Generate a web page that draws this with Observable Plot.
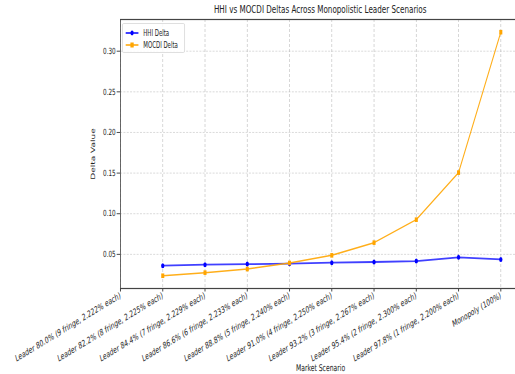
<!DOCTYPE html>
<html><head><meta charset="utf-8">
<script src="https://cdn.jsdelivr.net/npm/d3@7"></script>
<script src="https://cdn.jsdelivr.net/npm/@observablehq/plot@0.6"></script>
<style>
html,body{margin:0;background:#fff;overflow:hidden;}
#outer{position:relative;width:515px;height:374px;overflow:hidden;}
#wrap{position:absolute;left:0;top:0;width:780px;height:374px;transform:scaleX(0.66026);transform-origin:0 0;font-family:"DejaVu Sans",sans-serif;color:#222;}
#title{position:absolute;left:182px;width:606px;top:4px;text-align:center;font-size:10.9px;line-height:12px;white-space:nowrap;}
#legend{position:absolute;left:185px;top:23px;width:93px;height:28px;border:1px solid #d8d8d8;border-radius:2px;background:rgba(255,255,255,0.85);font-size:8.2px;}
#legend .row{position:absolute;left:4px;height:10px;line-height:10px;display:flex;align-items:center;white-space:nowrap;}
#legend svg{margin-right:7px;}
</style></head>
<body>
<div id="outer"><div id="wrap">
<div id="chart"></div>
<div id="title">HHI vs MOCDI Deltas Across Monopolistic Leader Scenarios</div>
<div id="legend"></div>
</div></div>
<script>
const scenarios = [
  "Leader 80.0% (9 fringe, 2.222% each)",
  "Leader 82.2% (8 fringe, 2.225% each)",
  "Leader 84.4% (7 fringe, 2.229% each)",
  "Leader 86.6% (6 fringe, 2.233% each)",
  "Leader 88.8% (5 fringe, 2.240% each)",
  "Leader 91.0% (4 fringe, 2.250% each)",
  "Leader 93.2% (3 fringe, 2.267% each)",
  "Leader 95.4% (2 fringe, 2.300% each)",
  "Leader 97.8% (1 fringe, 2.200% each)",
  "Monopoly (100%)"
];
const hhiDelta = [null, 0.0361, 0.0373, 0.0380, 0.0385, 0.0398, 0.0406, 0.0418, 0.0463, 0.0438];
const mocdiDelta = [null, 0.0237, 0.0275, 0.0319, 0.0394, 0.0488, 0.0644, 0.0927, 0.1506, 0.3234];
const yTicks = [0.05, 0.10, 0.15, 0.20, 0.25, 0.30];
const seriesNames = ["HHI Delta", "MOCDI Delta"];
const seriesColors = ["blue", "orange"];
const xLabel = "Market Scenario";
const yLabel = "Delta Value";

const rows = scenarios.map((s, i) => ({scenario: s, hhi: hhiDelta[i], mocdi: mocdiDelta[i]}));
const grid = {stroke: "#b0b0b0", strokeOpacity: 0.7, strokeDasharray: "3,2", strokeWidth: 0.8};

const chart = Plot.plot({
  width: 780, height: 374,
  marginLeft: 182, marginRight: -8, marginTop: 19, marginBottom: 86,
  style: {fontFamily: '"DejaVu Sans",sans-serif', fontSize: "9px", color: "#222", background: "transparent"},
  x: {type: "point", domain: scenarios, padding: 0.2, align: 0},
  y: {domain: [0.008, 0.339]},
  marks: [
    Plot.gridX(scenarios, {...grid, strokeWidth: 1.1}),
    Plot.gridY(yTicks, grid),
    Plot.axisX({tickRotate: -22, tickSize: 3.5, tickPadding: 3, label: null, fontSize: 9}),
    Plot.axisY({ticks: yTicks, tickFormat: d3.format(".2f"), tickSize: 5.3, tickPadding: 2, label: null, fontSize: 8.6}),
    Plot.text([xLabel], {frameAnchor: "bottom", textAnchor: "middle", lineAnchor: "middle", dy: 80, fontSize: 9.2, fill: "#222"}),
    Plot.text([yLabel], {frameAnchor: "left", textAnchor: "middle", lineAnchor: "middle", dx: -41, rotate: -90, fontSize: 9, fill: "#222"}),
    Plot.frame({stroke: "#444", strokeWidth: 1.2}),
    Plot.line(rows, {x: "scenario", y: "hhi", stroke: seriesColors[0], strokeWidth: 1.8, strokeOpacity: 0.75}),
    Plot.dot(rows, {x: "scenario", y: "hhi", fill: seriesColors[0], r: 2.5, symbol: "circle"}),
    Plot.line(rows, {x: "scenario", y: "mocdi", stroke: seriesColors[1], strokeWidth: 1.5, strokeOpacity: 0.9}),
    Plot.dot(rows, {x: "scenario", y: "mocdi", fill: seriesColors[1], r: 2.6, symbol: "square"})
  ]
});
document.getElementById("chart").appendChild(chart);

const legend = document.getElementById("legend");
seriesNames.forEach((name, i) => {
  const row = document.createElement("div");
  row.className = "row";
  row.style.top = (4 + i * 12) + "px";
  const marker = i === 0
    ? `<circle cx="10" cy="5" r="2.4" fill="${seriesColors[i]}"/>`
    : `<rect x="7.5" y="2.5" width="5" height="5" fill="${seriesColors[i]}"/>`;
  row.innerHTML = `<svg width="20" height="10"><line x1="0" x2="20" y1="5" y2="5" stroke="${seriesColors[i]}" stroke-width="1.5"/>${marker}</svg><span>${name}</span>`;
  legend.appendChild(row);
});
</script>
</body></html>
